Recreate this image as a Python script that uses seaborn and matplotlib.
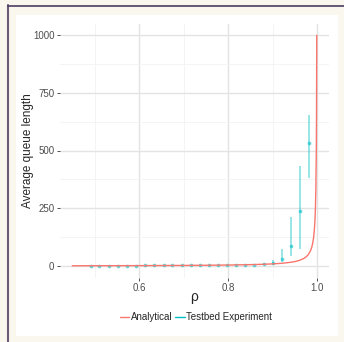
import numpy as np
import pandas as pd
import seaborn as sns
import matplotlib.pyplot as plt
from matplotlib.lines import Line2D
from matplotlib.patches import Rectangle

# Analytical curve
rho_analytical = [0.45, 0.50, 0.55, 0.60, 0.65, 0.70, 0.75, 0.80, 0.85, 0.88, 0.90,
                  0.92, 0.94, 0.95, 0.96, 0.97, 0.975, 0.98, 0.985, 0.988, 0.99,
                  0.992, 0.994, 0.995, 0.996, 0.997, 0.998, 0.9985, 0.999]
q_analytical = [0.8, 1.0, 1.2, 1.5, 1.9, 2.3, 3.0, 4.0, 5.7, 7.3, 9.0,
                11.5, 15.7, 19.0, 24.0, 32.3, 39.0, 49.0, 65.7, 82.3, 99.0,
                124.0, 166.0, 199.0, 249.0, 332.0, 499.0, 665.0, 999.0]

# Testbed experiment: mean and error bar limits
rho_testbed = [0.491, 0.511, 0.532, 0.552, 0.573, 0.593, 0.614, 0.634, 0.655, 0.675,
               0.696, 0.716, 0.736, 0.757, 0.777, 0.798, 0.818, 0.839, 0.859, 0.880,
               0.900, 0.921, 0.941, 0.962, 0.982]
q_testbed = [1, 1, 1, 1, 1, 1, 2, 2, 2, 2,
             2, 3, 3, 3, 4, 4, 5, 5, 6, 9,
             14, 29, 87, 240, 533]
q_low = [1, 1, 1, 1, 1, 1, 1, 1, 1, 1,
         1, 2, 2, 2, 3, 3, 3, 4, 4, 6,
         6, 17, 43, 72, 381]
q_high = [1, 1, 1, 1, 2, 2, 2, 2, 3, 3,
          3, 4, 4, 4, 5, 6, 6, 7, 9, 13,
          27, 72, 211, 434, 653]

red = "#F8766D"
cyan = "#00BFC4"

sns.set_theme(style="whitegrid")
plt.rcParams["font.family"] = ["Liberation Sans", "DejaVu Sans"]

fig = plt.figure(figsize=(3.44, 3.42), dpi=100)
fig.patch.set_facecolor("#faf7ee")
# white card and frame lines
fig.add_artist(Rectangle((16 / 344, 1 - 336 / 342), (338 - 16) / 344, (336 - 15) / 342,
                         transform=fig.transFigure, facecolor="white", edgecolor="none", zorder=0))
fig.add_artist(Line2D([7.5 / 344, 7.5 / 344], [0, 1 - 5 / 342], transform=fig.transFigure,
                      color="#6b5a78", lw=1.5))
fig.add_artist(Line2D([7.5 / 344, 1], [1 - 5.5 / 342, 1 - 5.5 / 342], transform=fig.transFigure,
                      color="#4e3c64", lw=1.2))

ax = fig.add_axes([60 / 344, 1 - 277.5 / 342, (329 - 60) / 344, (277.5 - 23.5) / 342])
ax.set_facecolor("white")

df_a = pd.DataFrame({"rho": rho_analytical, "q": q_analytical})
df_t = pd.DataFrame({"rho": rho_testbed, "q": q_testbed, "lo": q_low, "hi": q_high})

ax.vlines(df_t["rho"], df_t["lo"], df_t["hi"], color=cyan, alpha=0.4, lw=1.4, zorder=2)
sns.scatterplot(data=df_t, x="rho", y="q", color=cyan, alpha=0.6, s=7, linewidth=0,
                ax=ax, zorder=3)
sns.lineplot(data=df_a, x="rho", y="q", color=red, lw=1.0, ax=ax, zorder=4)

ax.set_xlim(0.4225, 1.0265)
ax.set_ylim(-50, 1050)
ax.set_xticks([0.6, 0.8, 1.0])
ax.set_xticklabels(["0.6", "0.8", "1.0"])
ax.set_yticks([0, 250, 500, 750, 1000])
ax.set_xticks([0.5, 0.7, 0.9], minor=True)
ax.set_yticks([125, 375, 625, 875], minor=True)
ax.grid(which="major", color="#e3e3e3", lw=1.0)
ax.grid(which="minor", color="#f2f2f2", lw=0.6)
for s in ax.spines.values():
    s.set_visible(False)
ax.tick_params(axis="both", which="major", labelsize=7, labelcolor="#4d4d4d",
               length=2.5, width=0.6, color="#333333", pad=1.5, bottom=True, left=True)
ax.tick_params(axis="both", which="minor", length=0)

ax.set_xlabel("ρ", fontsize=10)
ax.set_ylabel("Average queue length", fontsize=8.5)
ax.xaxis.set_label_coords(0.5, -0.05)
ax.yaxis.set_label_coords(-0.095, 0.5)

handles = [Line2D([], [], color=red, lw=1.0), Line2D([], [], color=cyan, lw=1.0)]
fig.legend(handles, ["Analytical", "Testbed Experiment"], loc="center",
           bbox_to_anchor=(196 / 344, 1 - 317 / 342), ncol=2, frameon=False,
           fontsize=7, handlelength=1.0, handletextpad=0.2, columnspacing=0.2)

fig.savefig("out.png", dpi=100, facecolor=fig.get_facecolor())
